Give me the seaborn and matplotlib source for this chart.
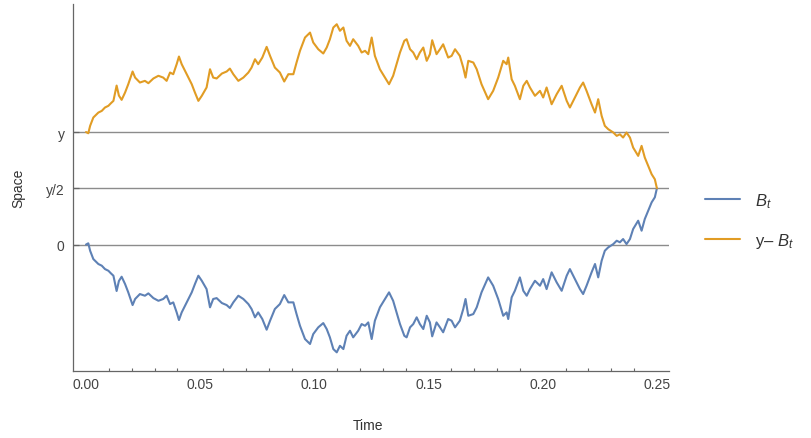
import numpy as np
import pandas as pd
import matplotlib
matplotlib.use("Agg")
import matplotlib.pyplot as plt
from matplotlib.ticker import MultipleLocator
import seaborn as sns

# Sample path of a Brownian motion B_t on [0, 0.25], pinned at y/2 at the end
time = [
    0.0000, 0.0010, 0.0018, 0.0032, 0.0042, 0.0054, 0.0069, 0.0083, 0.0098, 0.0109,
    0.0120, 0.0134, 0.0144, 0.0156, 0.0171, 0.0185, 0.0204, 0.0215, 0.0236, 0.0258,
    0.0273, 0.0295, 0.0317, 0.0338, 0.0353, 0.0368, 0.0382, 0.0397, 0.0407, 0.0419,
    0.0441, 0.0463, 0.0477, 0.0492, 0.0507, 0.0528, 0.0543, 0.0557, 0.0572, 0.0595,
    0.0616, 0.0630, 0.0645, 0.0667, 0.0689, 0.0711, 0.0725, 0.0740, 0.0754, 0.0772,
    0.0791, 0.0806, 0.0827, 0.0849, 0.0868, 0.0886, 0.0908, 0.0922, 0.0937, 0.0959,
    0.0981, 0.0995, 0.1017, 0.1039, 0.1054, 0.1068, 0.1083, 0.1098, 0.1112, 0.1127,
    0.1141, 0.1156, 0.1170, 0.1192, 0.1207, 0.1222, 0.1236, 0.1251, 0.1265, 0.1287,
    0.1309, 0.1327, 0.1345, 0.1360, 0.1375, 0.1394, 0.1404, 0.1419, 0.1433, 0.1448,
    0.1462, 0.1477, 0.1492, 0.1506, 0.1516, 0.1535, 0.1550, 0.1564, 0.1586, 0.1601,
    0.1616, 0.1637, 0.1652, 0.1662, 0.1674, 0.1696, 0.1711, 0.1732, 0.1761, 0.1783,
    0.1805, 0.1827, 0.1842, 0.1849, 0.1864, 0.1878, 0.1900, 0.1915, 0.1930, 0.1944,
    0.1966, 0.1988, 0.2002, 0.2017, 0.2039, 0.2061, 0.2083, 0.2105, 0.2119, 0.2141,
    0.2163, 0.2177, 0.2192, 0.2214, 0.2229, 0.2243, 0.2258, 0.2272, 0.2287, 0.2309,
    0.2324, 0.2338, 0.2352, 0.2367, 0.2382, 0.2396, 0.2418, 0.2433, 0.2447, 0.2462,
    0.2477, 0.2491, 0.2500,
]
b_path = [
    0.000, 0.011, -0.055, -0.129, -0.149, -0.173, -0.188, -0.218, -0.233, -0.256,
    -0.277, -0.413, -0.324, -0.286, -0.351, -0.425, -0.538, -0.484, -0.440, -0.455,
    -0.434, -0.476, -0.500, -0.484, -0.455, -0.529, -0.514, -0.603, -0.671, -0.603,
    -0.514, -0.425, -0.351, -0.277, -0.322, -0.396, -0.558, -0.484, -0.476, -0.520,
    -0.538, -0.564, -0.514, -0.455, -0.484, -0.529, -0.573, -0.647, -0.603, -0.662,
    -0.757, -0.677, -0.573, -0.529, -0.449, -0.514, -0.514, -0.618, -0.722, -0.840,
    -0.884, -0.796, -0.736, -0.698, -0.751, -0.825, -0.929, -0.958, -0.900, -0.929,
    -0.811, -0.766, -0.825, -0.766, -0.707, -0.722, -0.692, -0.840, -0.677, -0.558,
    -0.484, -0.425, -0.500, -0.603, -0.707, -0.811, -0.825, -0.736, -0.707, -0.647,
    -0.707, -0.751, -0.633, -0.692, -0.816, -0.692, -0.736, -0.780, -0.662, -0.677,
    -0.736, -0.677, -0.573, -0.484, -0.633, -0.618, -0.558, -0.425, -0.292, -0.366,
    -0.484, -0.633, -0.603, -0.662, -0.469, -0.411, -0.292, -0.411, -0.455, -0.396,
    -0.322, -0.366, -0.307, -0.396, -0.247, -0.336, -0.411, -0.277, -0.218, -0.307,
    -0.396, -0.440, -0.366, -0.247, -0.173, -0.292, -0.144, -0.055, -0.025, 0.004,
    0.034, 0.020, 0.049, 0.004, 0.049, 0.138, 0.212, 0.123, 0.227, 0.300,
    0.375, 0.420, 0.500,
]

Y_LEVEL = 1.0  # the level "y" on the space axis
series_labels = ["$B_t$", "y\u2013 $B_t$"]
y_tick_values = [0.0, 0.5, 1.0]
y_tick_labels = ["0", "y/2", "y"]
x_tick_values = [0.00, 0.05, 0.10, 0.15, 0.20, 0.25]
x_tick_labels = ["0.00", "0.05", "0.10", "0.15", "0.20", "0.25"]

t = np.asarray(time)
b = np.asarray(b_path)
df = pd.concat([
    pd.DataFrame({"Time": t, "Space": b, "series": series_labels[0]}),
    pd.DataFrame({"Time": t, "Space": Y_LEVEL - b, "series": series_labels[1]}),
], ignore_index=True)

sns.set_theme(style="white")
plt.rcParams["font.family"] = ["Liberation Sans", "DejaVu Sans"]
plt.rcParams["mathtext.fontset"] = "custom"
plt.rcParams["mathtext.rm"] = "Liberation Sans"
plt.rcParams["mathtext.it"] = "Liberation Sans:italic"

AXIS_GRAY = "#666666"
TEXT_GRAY = "#444444"

fig = plt.figure(figsize=(8.12, 4.39), dpi=100)
ax = fig.add_axes([73 / 812, 1 - 372 / 439, 596 / 812, 367 / 439])

palette = {series_labels[0]: "#5e81b5", series_labels[1]: "#e19c24"}
sns.lineplot(data=df, x="Time", y="Space", hue="series", palette=palette,
             estimator=None, sort=False, linewidth=1.5, ax=ax)

ax.set_xlim(-0.0057, 0.2553)
ax.set_ylim(-1.124, 2.138)

ax.set_xticks(x_tick_values)
ax.set_xticklabels(x_tick_labels)
ax.xaxis.set_minor_locator(MultipleLocator(0.01))
ax.set_yticks(y_tick_values)
ax.set_yticklabels(y_tick_labels)

ax.yaxis.grid(True, color="#8c8c8c", linewidth=1.0)
ax.xaxis.grid(False)
ax.set_axisbelow(True)

for side in ("top", "right"):
    ax.spines[side].set_visible(False)
for side in ("left", "bottom"):
    ax.spines[side].set_color(AXIS_GRAY)
    ax.spines[side].set_linewidth(0.9)

ax.tick_params(axis="x", which="major", direction="in", length=4, width=0.9,
               color=AXIS_GRAY, labelsize=10, labelcolor=TEXT_GRAY, pad=4)
ax.tick_params(axis="x", which="minor", direction="in", length=2, width=0.8,
               color=AXIS_GRAY, bottom=True)
ax.tick_params(axis="y", which="major", direction="in", length=4, width=0.9,
               color=AXIS_GRAY, labelsize=10, labelcolor=TEXT_GRAY, pad=6, left=True)

ax.set_xlabel("Time", fontsize=10, color="#333333")
ax.set_ylabel("Space", fontsize=10, color="#333333")
ax.xaxis.set_label_coords(0.495, -0.128)
ax.yaxis.set_label_coords(-0.080, 0.500)

sns.move_legend(ax, loc="center left", bbox_to_anchor=(1.035, 0.41),
                frameon=False, title=None, fontsize=12,
                handlelength=2.1, handletextpad=0.9, labelspacing=1.3)
for txt in ax.get_legend().get_texts():
    txt.set_color("#333333")

fig.savefig("out.png", dpi=100)
